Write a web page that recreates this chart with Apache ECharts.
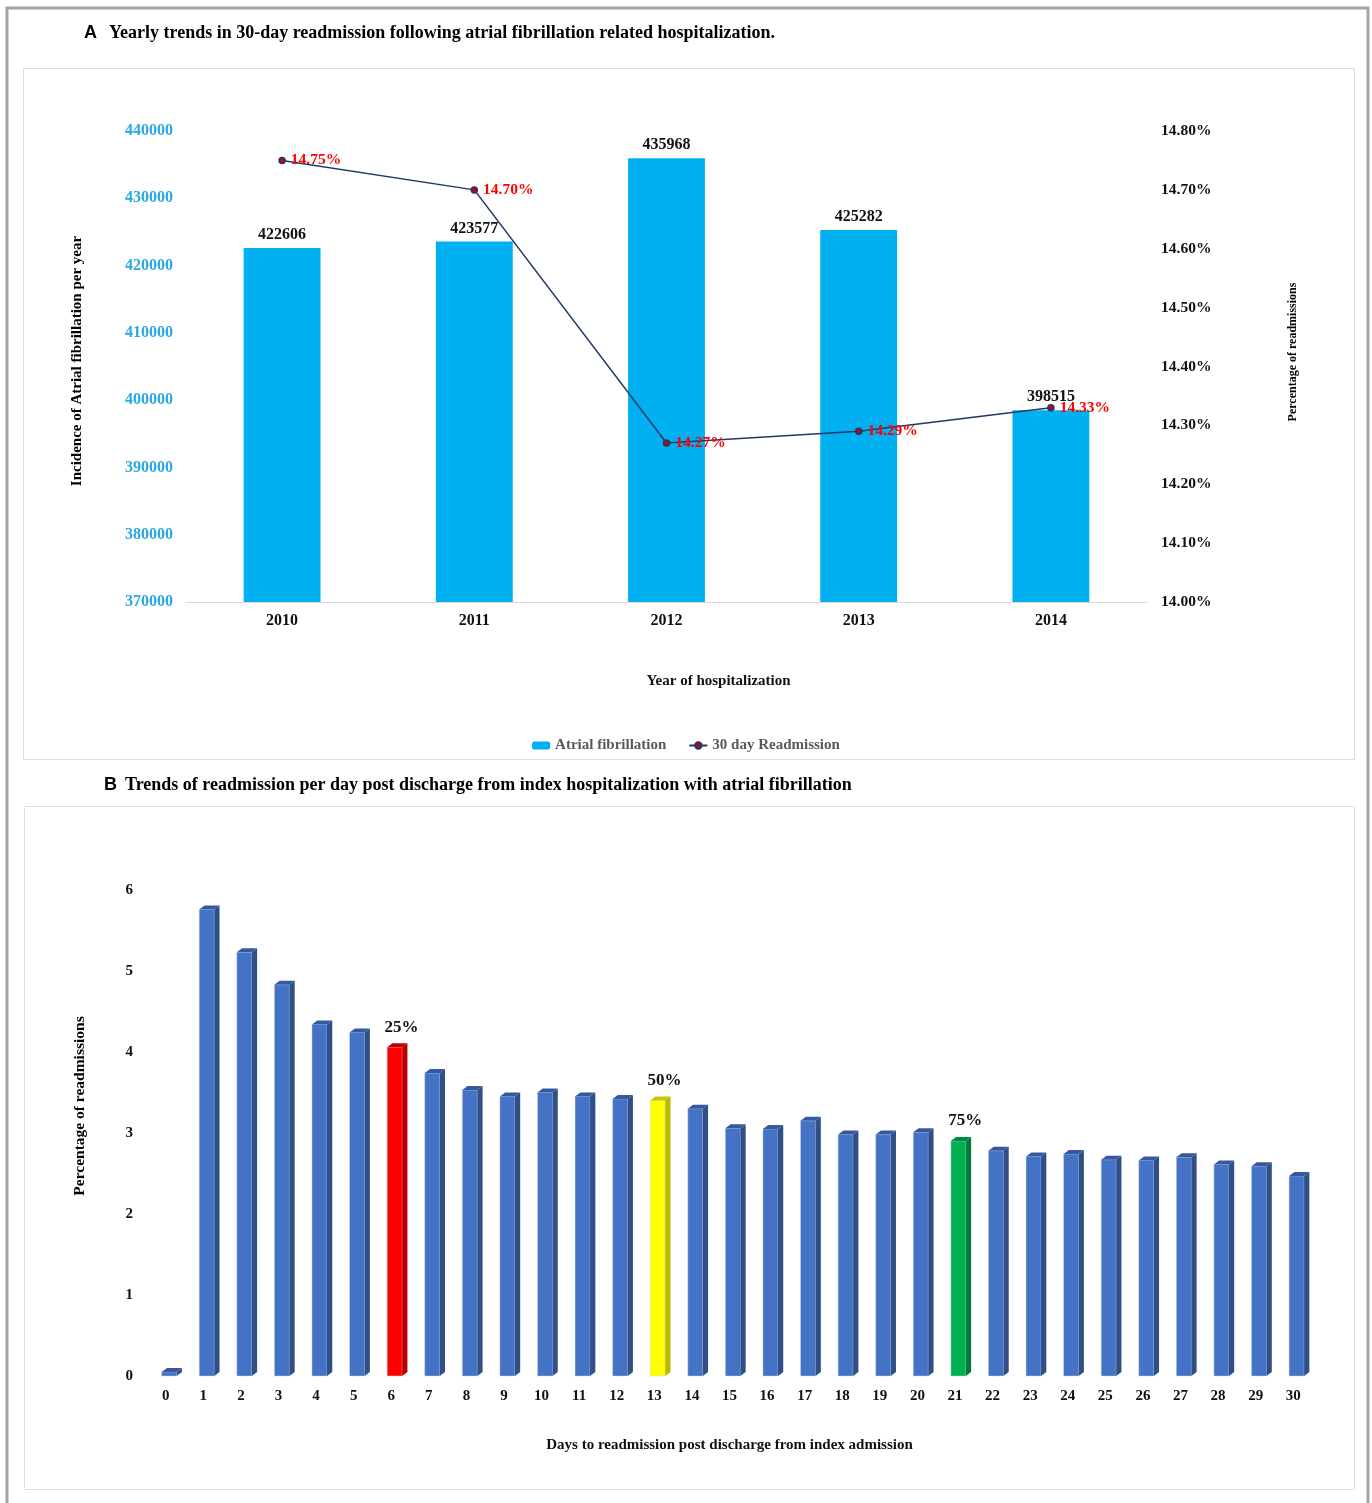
<!DOCTYPE html>
<html>
<head>
<meta charset="utf-8">
<script src="https://cdn.jsdelivr.net/npm/echarts@6/dist/echarts.min.js"></script>
<style>
html,body{margin:0;padding:0;background:#fff;}
#main{width:1372px;height:1503px;}
</style>
</head>
<body>
<div id="main"></div>
<script>
// ---------- Panel A data ----------
var years = ['2010', '2011', '2012', '2013', '2014'];
var afIncidence = [422606, 423577, 435968, 425282, 398515];
var readmitPct = [14.75, 14.70, 14.27, 14.29, 14.33];

// ---------- Panel B data ----------
var days = ['0','1','2','3','4','5','6','7','8','9','10','11','12','13','14','15','16','17','18','19','20','21','22','23','24','25','26','27','28','29','30'];
var readmitPerDay = [0.05, 5.76, 5.23, 4.83, 4.34, 4.24, 4.06, 3.74, 3.53, 3.45, 3.50, 3.45, 3.42, 3.40, 3.30, 3.06, 3.05, 3.15, 2.98, 2.98, 3.01, 2.90, 2.78, 2.71, 2.74, 2.67, 2.66, 2.70, 2.61, 2.59, 2.47];
var quartileDays = [6, 13, 21];
var quartileLabels = ['25%', '50%', '75%'];

var SERIF = '"Liberation Serif", "DejaVu Serif", serif';
var quartileColors = {6: ['#ff0000', '#b80000', '#c00000'], 13: ['#ffff00', '#b8b800', '#c8c800'], 21: ['#00b050', '#007a38', '#008a40']};
var baseColors = ['#4472c4', '#2f4f86', '#34599e'];

var chart = echarts.init(document.getElementById('main'), null, {renderer: 'canvas'});

function render3DBar(params, api) {
  var idx = api.value(0);
  var v = api.value(1);
  var top = api.coord([idx, v]);
  var base = api.coord([idx, 0]);
  var band = api.size([1, 0])[0];
  var cx = top[0];
  var x0 = cx - band * 0.11;
  var w = band * 0.40;
  var x1 = x0 + w;
  var dx = band * 0.14;
  var dy = 4;
  var cols = quartileColors[idx] || baseColors;
  var children = [
    {type: 'rect', shape: {x: x0, y: top[1], width: w, height: base[1] - top[1]},
     style: {fill: cols[0], stroke: 'rgba(200,215,240,0.8)', lineWidth: 0.6}},
    {type: 'polygon', shape: {points: [[x1, top[1]], [x1 + dx, top[1] - dy], [x1 + dx, base[1] - dy], [x1, base[1]]]},
     style: {fill: cols[1]}},
    {type: 'polygon', shape: {points: [[x0, top[1]], [x0 + dx, top[1] - dy], [x1 + dx, top[1] - dy], [x1, top[1]]]},
     style: {fill: cols[2]}}
  ];
  var qi = quartileDays.indexOf(idx);
  if (qi >= 0) {
    children.push({type: 'text', x: cx + band * 0.27, y: top[1] - 20,
      style: {text: quartileLabels[qi], font: 'bold 17px ' + SERIF, fill: '#111', align: 'center', verticalAlign: 'middle'}});
  }
  return {type: 'group', children: children};
}

var option = {
  animation: false,
  backgroundColor: '#fff',
  textStyle: {fontFamily: SERIF},
  graphic: [
    {type: 'polyline', shape: {points: [[7, 1503], [7, 8], [1368, 8], [1368, 1503]]}, style: {stroke: '#a3a3a3', lineWidth: 3, fill: null}, silent: true},
    {type: 'rect', shape: {x: 23.5, y: 68.5, width: 1331, height: 691}, style: {stroke: '#dedede', lineWidth: 1, fill: null}, silent: true},
    {type: 'rect', shape: {x: 24.5, y: 806.5, width: 1330, height: 683}, style: {stroke: '#dedede', lineWidth: 1, fill: null}, silent: true},
    {type: 'text', x: 84, y: 33, style: {text: 'A', font: 'bold 18px "Liberation Sans", Arial, sans-serif', fill: '#000', verticalAlign: 'middle'}},
    {type: 'text', x: 109, y: 33, style: {text: 'Yearly trends in 30-day readmission following atrial fibrillation related hospitalization.', font: 'bold 18px ' + SERIF, fill: '#000', verticalAlign: 'middle'}},
    {type: 'text', x: 104, y: 785, style: {text: 'B', font: 'bold 18px "Liberation Sans", Arial, sans-serif', fill: '#000', verticalAlign: 'middle'}},
    {type: 'text', x: 125, y: 785, style: {text: 'Trends of readmission per day post discharge from index hospitalization with atrial fibrillation', font: 'bold 18px ' + SERIF, fill: '#000', verticalAlign: 'middle'}},
    {type: 'text', x: 77, y: 361, rotation: Math.PI / 2, style: {text: 'Incidence of Atrial fibrillation per year', font: 'bold 15px ' + SERIF, fill: '#000', align: 'center', verticalAlign: 'middle'}},
    {type: 'text', x: 1293, y: 352, rotation: Math.PI / 2, style: {text: 'Percentage of readmissions', font: 'bold 12px ' + SERIF, fill: '#000', align: 'center', verticalAlign: 'middle'}},
    {type: 'text', x: 80, y: 1106, rotation: Math.PI / 2, style: {text: 'Percentage of readmissions', font: 'bold 15.5px ' + SERIF, fill: '#000', align: 'center', verticalAlign: 'middle'}}
  ],
  legend: {
    data: ['Atrial fibrillation', '30 day Readmission'],
    left: 'center',
    top: 733,
    itemGap: 22,
    itemWidth: 18,
    itemHeight: 8,
    textStyle: {color: '#595959', fontWeight: 'bold', fontSize: 15, fontFamily: SERIF}
  },
  grid: [
    {left: 186, right: 225, top: 131, height: 471},
    {left: 147, right: 60, top: 890, height: 486}
  ],
  xAxis: [
    {type: 'category', gridIndex: 0, data: years,
     axisLine: {lineStyle: {color: '#d9d9d9'}}, axisTick: {show: false},
     axisLabel: {color: '#111', fontWeight: 'bold', fontSize: 16, fontFamily: SERIF, margin: 11},
     name: 'Year of hospitalization', nameLocation: 'middle', nameGap: 72,
     nameTextStyle: {color: '#111', fontWeight: 'bold', fontSize: 15, fontFamily: SERIF, padding: [0, 0, 0, 104]}},
    {type: 'category', gridIndex: 1, data: days,
     axisLine: {show: false}, axisTick: {show: false},
     axisLabel: {color: '#111', fontWeight: 'bold', fontSize: 15, fontFamily: SERIF, margin: 13},
     name: 'Days to readmission post discharge from index admission', nameLocation: 'middle', nameGap: 62,
     nameTextStyle: {color: '#111', fontWeight: 'bold', fontSize: 15, fontFamily: SERIF}}
  ],
  yAxis: [
    {type: 'value', gridIndex: 0, min: 370000, max: 440000, interval: 10000,
     splitLine: {show: false}, axisLine: {show: false}, axisTick: {show: false},
     axisLabel: {color: '#2aa9e1', fontWeight: 'bold', fontSize: 16, fontFamily: SERIF, margin: 13,
       formatter: function (v) { return String(v); }}},
    {type: 'value', gridIndex: 0, position: 'right', min: 14.0, max: 14.8, interval: 0.1,
     splitLine: {show: false}, axisLine: {show: false}, axisTick: {show: false},
     axisLabel: {color: '#111', fontWeight: 'bold', fontSize: 15.5, fontFamily: SERIF, margin: 14,
       formatter: function (v) { return v.toFixed(2) + '%'; }}},
    {type: 'value', gridIndex: 1, min: 0, max: 6, interval: 1,
     splitLine: {show: false}, axisLine: {show: false}, axisTick: {show: false},
     axisLabel: {color: '#111', fontWeight: 'bold', fontSize: 15, fontFamily: SERIF, margin: 14}}
  ],
  series: [
    {name: 'Atrial fibrillation', type: 'bar', xAxisIndex: 0, yAxisIndex: 0, data: afIncidence,
     barWidth: '40%', itemStyle: {color: '#00b0f0'},
     label: {show: true, position: 'top', distance: 5, color: '#111', fontWeight: 'bold', fontSize: 16, fontFamily: SERIF}},
    {name: '30 day Readmission', type: 'line', xAxisIndex: 0, yAxisIndex: 1, data: readmitPct,
     symbol: 'circle', symbolSize: 6,
     lineStyle: {color: '#1f3864', width: 1.5},
     itemStyle: {color: '#c00020', borderColor: '#1f3864', borderWidth: 1.5},
     label: {show: true, position: 'right', distance: 5, color: '#ff0000', fontWeight: 'bold', fontSize: 15.5, fontFamily: SERIF,
       formatter: function (p) { return p.value.toFixed(2) + '%'; }}},
    {name: 'Readmissions per day', type: 'custom', xAxisIndex: 1, yAxisIndex: 2,
     data: readmitPerDay.map(function (v, i) { return [i, v]; }),
     renderItem: render3DBar, encode: {x: 0, y: 1}}
  ]
};
chart.setOption(option);
</script>
</body>
</html>
